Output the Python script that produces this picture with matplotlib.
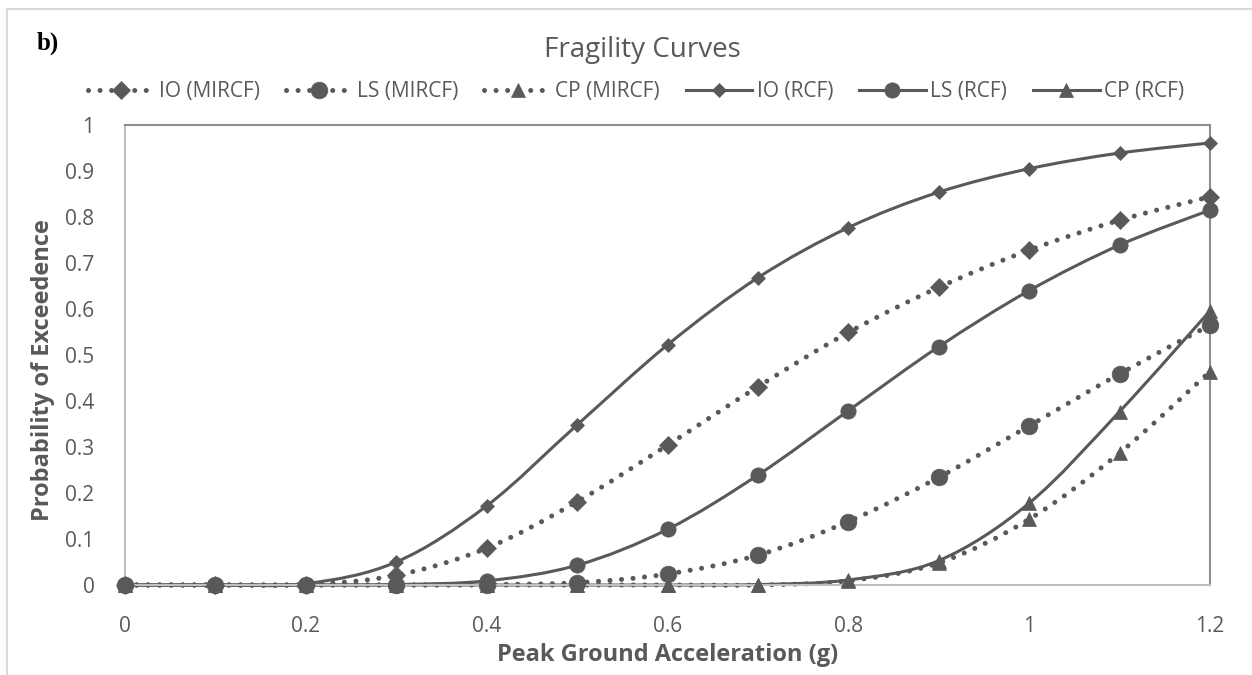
import numpy as np
import matplotlib
matplotlib.use("Agg")
import matplotlib.pyplot as plt
from matplotlib.path import Path
from matplotlib.patches import PathPatch
from matplotlib.lines import Line2D

# peak ground acceleration (g)
pga = [0, 0.1, 0.2, 0.3, 0.4, 0.5, 0.6, 0.7, 0.8, 0.9, 1.0, 1.1, 1.2]

# probability of exceedence
io_mircf = [0, 0, 0.001, 0.021, 0.080, 0.181, 0.304, 0.431, 0.549, 0.647, 0.728, 0.793, 0.844]
ls_mircf = [0, 0, 0, 0, 0.001, 0.005, 0.024, 0.065, 0.138, 0.234, 0.346, 0.459, 0.565]
cp_mircf = [0, 0, 0, 0, 0, 0, 0, 0, 0.009, 0.048, 0.143, 0.287, 0.464]
io_rcf = [0, 0, 0.003, 0.050, 0.172, 0.348, 0.522, 0.668, 0.777, 0.854, 0.905, 0.939, 0.961]
ls_rcf = [0, 0, 0, 0.001, 0.009, 0.043, 0.121, 0.239, 0.379, 0.518, 0.640, 0.739, 0.815]
cp_rcf = [0, 0, 0, 0, 0, 0, 0, 0.001, 0.011, 0.053, 0.178, 0.377, 0.596]

series_names = ['IO (MIRCF)', 'LS (MIRCF)', 'CP (MIRCF)', 'IO (RCF)', 'LS (RCF)', 'CP (RCF)']
series_vals = [io_mircf, ls_mircf, cp_mircf, io_rcf, ls_rcf, cp_rcf]

x_ticks = [0, 0.2, 0.4, 0.6, 0.8, 1.0, 1.2]
x_ticklabels = ['0', '0.2', '0.4', '0.6', '0.8', '1', '1.2']
y_ticks = [0, 0.1, 0.2, 0.3, 0.4, 0.5, 0.6, 0.7, 0.8, 0.9, 1.0]
y_ticklabels = ['0', '0.1', '0.2', '0.3', '0.4', '0.5', '0.6', '0.7', '0.8', '0.9', '1']

GRAY = '#595959'
DOT = (0, (0.01, 2.3))

styles = [
    dict(ls=DOT, lw=3.6, marker='D', ms=9.2),
    dict(ls=DOT, lw=3.6, marker='o', ms=12),
    dict(ls=DOT, lw=3.6, marker='^', ms=10.6),
    dict(ls='-', lw=2.2, marker='D', ms=7.6),
    dict(ls='-', lw=2.2, marker='o', ms=11),
    dict(ls='-', lw=2.2, marker='^', ms=10.6),
]

plt.rcParams['font.family'] = ['Open Sans', 'DejaVu Sans']


def smooth_path(x, y):
    # excel style smoothed line: catmull-rom segments as cubic beziers
    pts = np.column_stack([x, y]).astype(float)
    n = len(pts)
    verts = [pts[0]]
    codes = [Path.MOVETO]
    for i in range(n - 1):
        p0 = pts[i - 1] if i > 0 else pts[i]
        p1 = pts[i]
        p2 = pts[i + 1]
        p3 = pts[i + 2] if i + 2 < n else pts[i + 1]
        c1 = p1 + (p2 - p0) / 6.0
        c2 = p2 - (p3 - p1) / 6.0
        verts += [c1, c2, p2]
        codes += [Path.CURVE4] * 3
    return Path(verts, codes)


fig = plt.figure(figsize=(12.52, 6.75), dpi=100)
ax = fig.add_axes([125 / 1252, 1 - 585 / 675, (1210 - 125) / 1252, (585 - 125) / 675])

handles = []
for name, vals, st in zip(series_names, series_vals, styles):
    patch = PathPatch(smooth_path(pga, vals), facecolor='none', edgecolor=GRAY,
                      linewidth=st['lw'], linestyle=st['ls'], capstyle='round',
                      clip_on=False, zorder=2)
    ax.add_patch(patch)
    ax.plot(pga, vals, linestyle='none', marker=st['marker'], ms=st['ms'],
            color=GRAY, mec=GRAY, mew=0.5, clip_on=False, zorder=3)
    h = Line2D([], [], color=GRAY, linestyle=st['ls'], linewidth=st['lw'],
               marker=st['marker'], ms=st['ms'], mec=GRAY, mew=0.5,
               dash_capstyle='round')
    handles.append(h)

ax.set_xlim(0, 1.2)
ax.set_ylim(0, 1)
ax.set_xticks(x_ticks)
ax.set_xticklabels(x_ticklabels)
ax.set_yticks(y_ticks)
ax.set_yticklabels(y_ticklabels)
ax.tick_params(length=0, labelsize=15, colors=GRAY)
ax.tick_params(axis='x', pad=22)
ax.tick_params(axis='y', pad=22)

for s in ['left', 'bottom']:
    ax.spines[s].set_color('#BFBFBF')
    ax.spines[s].set_linewidth(1.5)
for s in ['top', 'right']:
    ax.spines[s].set_color('#8C8C8C')
    ax.spines[s].set_linewidth(1.5)

fig.text(668 / 1252, 1 - 655 / 675, 'Peak Ground Acceleration (g)', ha='center', va='center',
         fontsize=17, fontweight='bold', color=GRAY)
fig.text(43 / 1252, 1 - 370 / 675, 'Probability of Exceedence', ha='center', va='center',
         rotation=90, fontsize=17, fontweight='bold', color=GRAY)
fig.text(642 / 1252, 1 - 50 / 675, 'Fragility Curves', ha='center', va='center',
         fontsize=20, color=GRAY)
fig.text(48 / 1252, 1 - 43 / 675, 'b)', ha='center', va='center',
         fontsize=18, fontweight='bold', family='Liberation Serif', color='black')

fig.legend(handles, series_names, loc='center', bbox_to_anchor=(636 / 1252, 1 - 92 / 675),
           ncol=6, frameon=False, fontsize=15, handlelength=3.2, handletextpad=0.2,
           columnspacing=1.25, numpoints=1, labelcolor=GRAY)

# chart area border (left and top edges)
fig.add_artist(Line2D([7 / 1252, 7 / 1252], [0, 1 - 9 / 675], transform=fig.transFigure,
                      color='#D9D9D9', lw=1.5))
fig.add_artist(Line2D([7 / 1252, 1], [1 - 9 / 675, 1 - 9 / 675], transform=fig.transFigure,
                      color='#D9D9D9', lw=1.5))

fig.savefig('out.png', dpi=100)
